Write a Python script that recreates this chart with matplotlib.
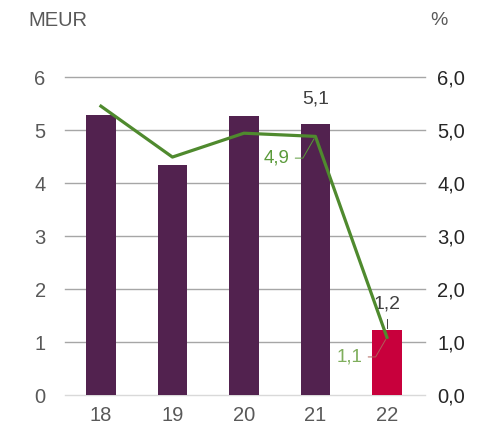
import matplotlib.pyplot as plt
import numpy as np

years = ['18', '19', '20', '21', '22']
meur = [5.28, 4.34, 5.26, 5.11, 1.23]
pct = [5.45, 4.49, 4.94, 4.88, 1.09]
left_ticks = [0, 1, 2, 3, 4, 5, 6]
right_ticks = ['0,0', '1,0', '2,0', '3,0', '4,0', '5,0', '6,0']

plt.rcParams['font.family'] = ['Liberation Sans', 'DejaVu Sans']

fig = plt.figure(figsize=(4.9, 4.29), dpi=100)
ax = fig.add_axes([0.133, 0.079, 0.734, 0.7415])
x = np.arange(len(years))

# gridlines
for t in left_ticks:
    ax.axhline(t, color='#d9d9d9' if t == 0 else '#a6a6a6', lw=1.0, zorder=0, clip_on=False)

colors = ['#52224f'] * 4 + ['#c8003c']
ax.bar(x, meur, width=0.41, color=colors, zorder=2)

ax2 = ax.twinx()
ax2.plot(x, pct, color='#4f8a2e', lw=2.3, zorder=3)
ax2.set_ylim(0, 6)
ax.set_ylim(0, 6)
ax.set_xlim(-0.5, 4.53)

for a in (ax, ax2):
    for s in a.spines.values():
        s.set_visible(False)
ax.set_yticks(left_ticks)
ax.set_yticklabels([str(t) for t in left_ticks], color='#595959', fontsize=14.5)
ax.tick_params(axis='y', length=0, pad=14)
ax2.set_yticks(left_ticks)
ax2.set_yticklabels(right_ticks, color='#262626', fontsize=14.5)
ax2.tick_params(axis='y', length=0, pad=9)
ax.set_xticks(x)
ax.set_xticklabels(years, color='#595959', fontsize=14.5)
ax.tick_params(axis='x', length=0, pad=8)

# value labels
ax.text(x[3], meur[3] + 0.32, '5,1', ha='center', va='bottom', color='#404040', fontsize=14)
ax.text(x[4], meur[4] + 0.33, '1,2', ha='center', va='bottom', color='#404040', fontsize=14)
ax.plot([x[4], x[4]], [meur[4] + 0.03, meur[4] + 0.2], color='#404040', lw=0.7)
ax2.annotate('4,9', xy=(x[3], pct[3]), xytext=(x[3] - 0.36, pct[3] - 0.41),
             color='#5a9a3a', fontsize=13.5, ha='right', va='center',
             arrowprops=dict(arrowstyle='-', color='#5a9a3a', lw=0.7,
                             connectionstyle='angle,angleA=0,angleB=60,rad=0'))
ax2.annotate('1,1', xy=(x[4], pct[4]), xytext=(x[4] - 0.34, pct[4] - 0.37),
             color='#7fae5c', fontsize=13.5, ha='right', va='center',
             arrowprops=dict(arrowstyle='-', color='#b0605a', lw=0.7,
                             connectionstyle='angle,angleA=0,angleB=60,rad=0'))

fig.text(0.057, 0.952, 'MEUR', color='#595959', fontsize=14.5, va='center')
fig.text(0.878, 0.952, '%', color='#595959', fontsize=14, va='center')

fig.savefig('out.png', dpi=100)
